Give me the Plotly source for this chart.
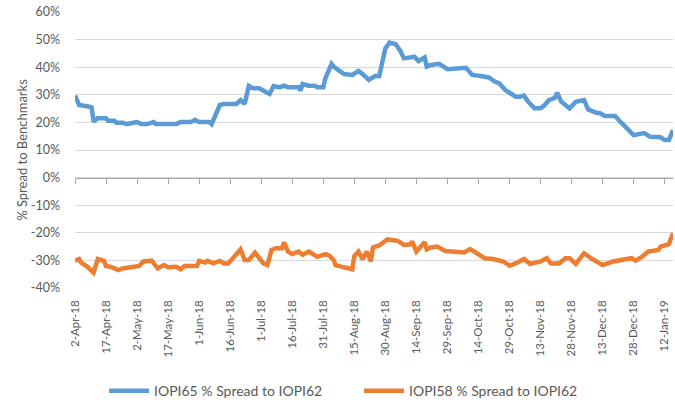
import plotly.graph_objects as go

# ---- data ----
iopi65_dates = [
    "2018-04-02", "2018-04-04", "2018-04-09", "2018-04-10", "2018-04-11", "2018-04-13", "2018-04-17",
    "2018-04-18", "2018-04-21", "2018-04-22", "2018-04-25", "2018-04-27", "2018-05-02", "2018-05-04",
    "2018-05-07", "2018-05-10", "2018-05-11", "2018-05-21", "2018-05-23", "2018-05-28", "2018-05-30",
    "2018-06-01", "2018-06-06", "2018-06-07", "2018-06-11", "2018-06-13", "2018-06-19", "2018-06-21",
    "2018-06-23", "2018-06-25", "2018-06-27", "2018-06-30", "2018-07-05", "2018-07-07", "2018-07-10",
    "2018-07-12", "2018-07-14", "2018-07-19", "2018-07-20", "2018-07-21", "2018-07-24", "2018-07-27",
    "2018-07-28", "2018-07-31", "2018-08-01", "2018-08-04", "2018-08-05", "2018-08-09", "2018-08-10",
    "2018-08-14", "2018-08-17", "2018-08-19", "2018-08-22", "2018-08-25", "2018-08-27", "2018-08-30",
    "2018-09-01", "2018-09-04", "2018-09-06", "2018-09-08", "2018-09-12", "2018-09-13", "2018-09-15",
    "2018-09-18", "2018-09-19", "2018-09-21", "2018-09-25", "2018-09-29", "2018-10-08", "2018-10-11",
    "2018-10-15", "2018-10-19", "2018-10-22", "2018-10-24", "2018-10-27", "2018-10-30", "2018-11-01",
    "2018-11-03", "2018-11-05", "2018-11-07", "2018-11-10", "2018-11-13", "2018-11-15", "2018-11-17",
    "2018-11-20", "2018-11-21", "2018-11-23", "2018-11-27", "2018-11-30", "2018-12-04", "2018-12-06",
    "2018-12-10", "2018-12-12", "2018-12-14", "2018-12-19", "2018-12-22", "2018-12-25", "2018-12-28",
    "2019-01-02", "2019-01-05", "2019-01-10", "2019-01-12", "2019-01-14", "2019-01-16",
]
iopi65_values = [
    29.7, 26.3, 25.7, 25.5, 20.3, 21.5, 21.5,
    20.6, 20.6, 19.9, 19.9, 19.4, 20.1, 19.4,
    19.4, 20.1, 19.4, 19.4, 20.1, 20.1, 20.9,
    20.1, 20.1, 19.4, 26.3, 26.7, 26.7, 28.1,
    26.7, 33.2, 32.4, 32.4, 30.3, 33.2, 32.7,
    33.3, 32.7, 32.7, 31.5, 33.9, 33.3, 33.3,
    32.7, 32.7, 36.0, 41.2, 40.2, 38.0, 37.5,
    37.2, 38.6, 37.5, 35.4, 36.8, 36.8, 46.8,
    48.9, 48.3, 46.2, 43.2, 43.8, 43.8, 42.2,
    43.6, 40.2, 40.8, 41.2, 39.3, 39.8, 37.2,
    36.8, 36.3, 34.7, 34.2, 31.7, 30.2, 29.3,
    29.3, 29.7, 27.5, 25.1, 25.1, 26.3, 28.1,
    28.9, 30.8, 27.5, 25.1, 27.5, 28.1, 24.7,
    23.5, 23.3, 22.3, 22.3, 19.9, 17.9, 15.4,
    16.1, 14.8, 14.6, 13.6, 13.6, 17.2,
]

iopi58_dates = [
    "2018-04-02", "2018-04-04", "2018-04-05", "2018-04-08", "2018-04-11", "2018-04-13", "2018-04-16",
    "2018-04-17", "2018-04-19", "2018-04-23", "2018-04-25", "2018-04-29", "2018-05-03", "2018-05-05",
    "2018-05-07", "2018-05-09", "2018-05-12", "2018-05-15", "2018-05-17", "2018-05-21", "2018-05-23",
    "2018-05-25", "2018-05-31", "2018-06-01", "2018-06-04", "2018-06-05", "2018-06-08", "2018-06-11",
    "2018-06-13", "2018-06-15", "2018-06-17", "2018-06-19", "2018-06-21", "2018-06-23", "2018-06-25",
    "2018-06-28", "2018-07-02", "2018-07-04", "2018-07-06", "2018-07-08", "2018-07-11", "2018-07-12",
    "2018-07-14", "2018-07-16", "2018-07-19", "2018-07-21", "2018-07-24", "2018-07-25", "2018-07-28",
    "2018-08-01", "2018-08-03", "2018-08-05", "2018-08-06", "2018-08-10", "2018-08-13", "2018-08-14",
    "2018-08-15", "2018-08-17", "2018-08-19", "2018-08-21", "2018-08-23", "2018-08-24", "2018-08-27",
    "2018-08-31", "2018-09-02", "2018-09-05", "2018-09-08", "2018-09-11", "2018-09-12", "2018-09-14",
    "2018-09-18", "2018-09-19", "2018-09-21", "2018-09-24", "2018-09-28", "2018-10-07", "2018-10-10",
    "2018-10-13", "2018-10-17", "2018-10-21", "2018-10-24", "2018-10-26", "2018-10-29", "2018-11-01",
    "2018-11-05", "2018-11-08", "2018-11-13", "2018-11-16", "2018-11-18", "2018-11-22", "2018-11-25",
    "2018-11-27", "2018-11-30", "2018-12-04", "2018-12-08", "2018-12-11", "2018-12-13", "2018-12-18",
    "2018-12-23", "2018-12-27", "2018-12-29", "2019-01-01", "2019-01-04", "2019-01-09", "2019-01-10",
    "2019-01-14", "2019-01-16",
]
iopi58_values = [
    -30.1, -29.5, -30.8, -32.3, -34.4, -29.5, -30.2,
    -32.0, -32.3, -33.5, -32.9, -32.6, -32.0, -30.4,
    -30.4, -30.1, -32.9, -31.7, -32.5, -32.3, -33.2,
    -32.0, -32.0, -30.2, -30.8, -30.2, -31.1, -30.2,
    -31.1, -31.1, -29.5, -28.0, -26.0, -29.9, -29.9,
    -27.2, -31.1, -31.7, -26.2, -25.6, -25.6, -23.5,
    -26.8, -27.7, -26.8, -28.0, -26.8, -27.2, -28.7,
    -27.7, -28.3, -29.9, -31.7, -32.5, -32.9, -33.2,
    -28.4, -26.8, -29.6, -26.8, -30.4, -25.3, -24.6,
    -22.4, -22.6, -22.9, -24.4, -24.2, -23.2, -26.8,
    -23.4, -26.0, -25.3, -25.0, -26.6, -27.1, -25.9,
    -27.4, -29.2, -29.5, -29.9, -30.4, -31.9, -31.1,
    -29.5, -31.3, -30.4, -29.2, -31.1, -31.1, -29.2,
    -29.2, -31.3, -27.4, -29.5, -31.1, -31.7, -30.4,
    -29.9, -29.2, -30.1, -28.7, -26.8, -26.2, -25.0,
    -24.1, -20.2,
]

series_names = ["IOPI65 % Spread to IOPI62", "IOPI58 % Spread to IOPI62"]
y_ticks = [-40, -30, -20, -10, 0, 10, 20, 30, 40, 50, 60]
y_tick_labels = [f"{v}%" for v in y_ticks]
x_start = "2018-04-02"
x_end = "2019-01-16"
tick_step_days = 15

# ---- style ----
BLUE = "#5B9BD5"
ORANGE = "#ED7D31"
GRID = "#D9D9D9"
AXIS = "#A6A6A6"
TEXT = "#595959"
FONT = "Lato"
DTICK = tick_step_days * 86400000

fig = go.Figure()
fig.add_trace(go.Scatter(
    x=iopi65_dates, y=iopi65_values, name=series_names[0], mode="lines",
    line=dict(color=BLUE, width=4.5), xaxis="x", yaxis="y",
))
fig.add_trace(go.Scatter(
    x=iopi58_dates, y=iopi58_values, name=series_names[1], mode="lines",
    line=dict(color=ORANGE, width=4.5), xaxis="x2", yaxis="y",
))

fig.update_layout(
    width=675, height=405,
    margin=dict(l=75, r=2, t=12, b=117, autoexpand=False),
    paper_bgcolor="white", plot_bgcolor="white",
    font=dict(family=FONT, color=TEXT, size=12),
    showlegend=True,
    legend=dict(
        orientation="h", x=0.475, xanchor="center", y=-0.316, yanchor="top",
        font=dict(family=FONT, size=14, color=TEXT),
        itemwidth=40, tracegroupgap=0, entrywidth=200,
    ),
    xaxis=dict(
        type="date", range=[x_start, x_end], automargin=False,
        tick0=x_start, dtick=DTICK, tickformat="%-d-%b-%y",
        tickangle=-90, tickfont=dict(family=FONT, size=11.5, color=TEXT),
        showgrid=False, showline=False, zeroline=False, ticks="",
        ticklabelstandoff=9, ticklabeloverflow="allow",
    ),
    xaxis2=dict(
        type="date", range=[x_start, x_end], overlaying="x", automargin=False,
        anchor="free", position=0.4, side="bottom",
        tick0=x_start, dtick=DTICK,
        showticklabels=False, showgrid=False, zeroline=False,
        showline=True, linecolor=AXIS, linewidth=1,
        ticks="outside", ticklen=5, tickcolor=AXIS, tickwidth=1,
    ),
    yaxis=dict(
        range=[-40, 60], tickvals=y_ticks, ticktext=y_tick_labels, automargin=False,
        showgrid=True, gridcolor=GRID, gridwidth=1,
        zeroline=False, showline=False, ticks="",
        tickfont=dict(family=FONT, size=12.5, color=TEXT),
        ticklabelstandoff=14, ticklabeloverflow="allow",
        title=dict(text="% Spread to Benchmarks", font=dict(family=FONT, size=13, color=TEXT), standoff=0),
    ),
)

# remove the browser's default page margin so the 675x405 figure fills the window exactly
fig.write_html(
    "out.html",
    config={"displayModeBar": False},
    post_script="document.body.style.margin='0';document.body.style.overflow='hidden';",
)
